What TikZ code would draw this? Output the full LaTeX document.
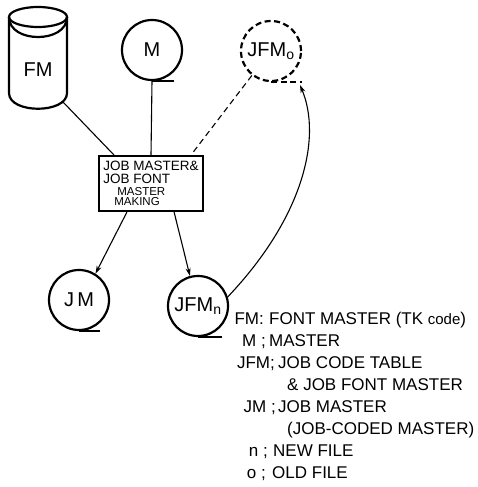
\documentclass[tikz,border=0pt]{standalone}
\usepackage{fontspec}
\setmainfont{Liberation Sans}
\usetikzlibrary{arrows.meta, positioning, calc}
\tikzset{
  tape/.style={circle, draw, line width=2.2pt, minimum size=60pt, inner sep=0pt, font=\fontsize{20}{20}\selectfont},
  tapetail/.style={line width=2.2pt},
  link/.style={line width=1.1pt},
  flow/.style={line width=1.1pt, -{Stealth[length=8pt,width=5pt]}},
  legkey/.style={anchor=base east, inner sep=0pt, font=\fontsize{17}{17}\selectfont},
  legtext/.style={anchor=base west, inner sep=0pt, font=\fontsize{17}{17}\selectfont},
}

\begin{document}
\begin{tikzpicture}[x=1pt, y=-1pt]
\useasboundingbox[fill=white] (0,0) rectangle (477,487);
% --- FM: cylinder ---
\draw[line width=2.2pt] (38,17) ellipse [x radius=29, y radius=10];
\draw[line width=2.2pt] (9,17) .. controls (9,43.7) and (67,43.7) .. (67,17);
\draw[line width=2.2pt] (9,17) -- (9,93) .. controls (9,114) and (67,114) .. (67,93) -- (67,17);
\node[font=\fontsize{20}{20}\selectfont] (fm) at (38,70) {FM};
\coordinate (fmout) at (63,102);
% --- tapes ---
\node[tape] (m) at (152,50) {M};
\draw[tapetail] (m.south) -- ++(22,0);
\node[tape, dash pattern=on 6pt off 3.5pt] (jfmo) at (271,51) {JFM\textsubscript{o}};
\draw[tapetail, dash pattern=on 6pt off 3.5pt] (jfmo.south) -- ++(31,0);
\coordinate (back) at (300,85);
\node[tape] (jm) at (79,300) {J\,M};
\draw[tapetail] (jm.south) -- ++(21,0);
\node[tape] (jfmn) at (198,306) {JFM\textsubscript{n}};
\draw[tapetail] (jfmn.south) -- ++(24,0);
% --- process box ---
\node[draw, line width=2.2pt, minimum width=104pt, minimum height=55pt, inner sep=4pt,
  align=left, font=\fontsize{13.5}{13}\selectfont] (make) at (151,183.5)
  {JOB MASTER\&\\JOB FONT\\[-1pt]
   \hspace*{14pt}{\fontsize{11.5}{10}\selectfont MASTER}\\[-2.5pt]
   \hspace*{11pt}{\fontsize{11.5}{10}\selectfont MAKING}};
% --- connectors ---
\draw[link] (fmout) -- ([xshift=16pt]make.north west);
\draw[link] (m.south) -- (make.north);
\draw[link, dash pattern=on 6pt off 4pt] (jfmo.232) -- ([xshift=-13pt]make.north east);
\draw[flow] ([xshift=29pt]make.south west) -- (jm.58);
\draw[flow] ([xshift=-30pt]make.south east) -- (jfmn.105);
\draw[flow] (jfmn.17) .. controls +(76,-80) and +(22,52) .. (back);
% --- legend ---
\node[legkey] (kfm) at (264,324) {FM:};
\node[legtext] (tfm) at (269,324) {FONT MASTER (TK {\fontsize{15}{15}\selectfont code})};
\node[legkey] (km) at (266,346) {M ;};
\node[legtext] (tm) at (269,346) {MASTER};
\node[legkey] (kjfm) at (275,368) {JFM;};
\node[legtext] (tjfm) at (278,368) {JOB CODE TABLE};
\node[legtext] (tjfmb) at (287,390) {\& JOB FONT MASTER};
\node[legkey] (kjm) at (276,412) {JM ;};
\node[legtext] (tjm) at (278,412) {JOB MASTER};
\node[legtext] (tjmb) at (287,434) {(JOB-CODED MASTER)};
\node[legkey] (kn) at (268,456) {n ;};
\node[legtext] (tn) at (273,456) {NEW FILE};
\node[legkey] (ko) at (266,478) {o ;};
\node[legtext] (to) at (272,478) {OLD FILE};
\end{tikzpicture}
\end{document}
